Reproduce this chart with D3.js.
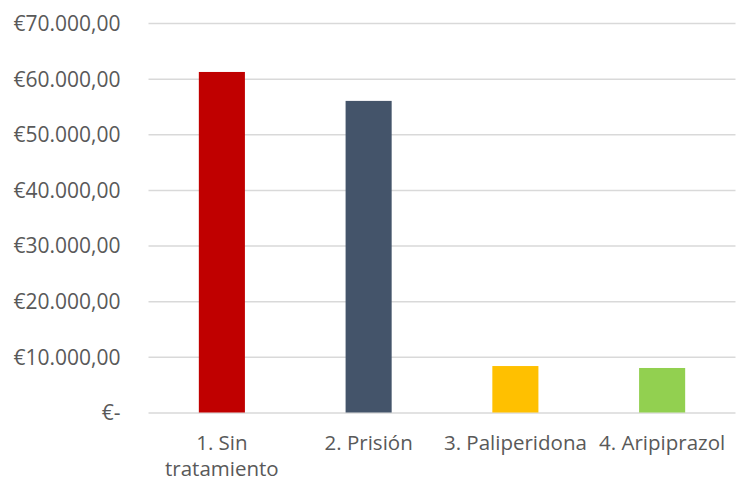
<!DOCTYPE html>
<html><head><meta charset="utf-8">
<script src="https://cdn.jsdelivr.net/npm/d3@7"></script>
<style>body{margin:0;background:#fff}svg{display:block}text{font-family:"Open Sans",sans-serif;fill:#595959}</style>
</head><body>
<svg id="c" width="738" height="483"></svg>
<script>
const categories = [["1. Sin","tratamiento"],["2. Prisión"],["3. Paliperidona"],["4. Aripiprazol"]];
const values = [61200, 56000, 8350, 8000];
const colors = ["#c00000","#44546a","#ffc000","#92d050"];
const yTicks = [0,10000,20000,30000,40000,50000,60000,70000];
const tickLabels = ["€-","€10.000,00","€20.000,00","€30.000,00","€40.000,00","€50.000,00","€60.000,00","€70.000,00"];

(function(){
const svg = d3.select("#c");
const mL = 148.5, mR = 735.5, mT = 23, mB = 412.5;
const x = d3.scaleBand().domain(d3.range(categories.length)).range([mL,mR]).paddingInner(0.686).paddingOuter(0.343);
const y = d3.scaleLinear().domain([0,70000]).range([mB,mT]);

const yAxis = d3.axisLeft(y).tickValues(yTicks).tickSize(-(mR-mL)).tickPadding(0).tickFormat((d,i)=>tickLabels[i]);
const ga = svg.append("g").attr("transform",`translate(${mL},0)`).call(yAxis);
ga.select(".domain").remove();
ga.selectAll(".tick line").attr("stroke","#d9d9d9").attr("stroke-width",1.5);
ga.selectAll(".tick text").attr("x",-28).attr("dy","0.35em").style("font-size","21px").style("fill","#595959").style("font-family","Open Sans");

svg.append("g").selectAll("rect").data(values).join("rect")
  .attr("x",(d,i)=>x(i)).attr("width",x.bandwidth())
  .attr("y",d=>y(d)).attr("height",d=>y(0)-y(d))
  .attr("fill",(d,i)=>colors[i]);

const xa = svg.append("g").selectAll("text").data(categories).join("text")
  .attr("text-anchor","middle").style("font-size","20.5px")
  .attr("transform",(d,i)=>`translate(${x(i)+x.bandwidth()/2},450)`);
xa.selectAll("tspan").data(d=>d).join("tspan").attr("x",0).attr("dy",(d,j)=>j?26:0).text(d=>d);
})();
</script>
</body></html>
